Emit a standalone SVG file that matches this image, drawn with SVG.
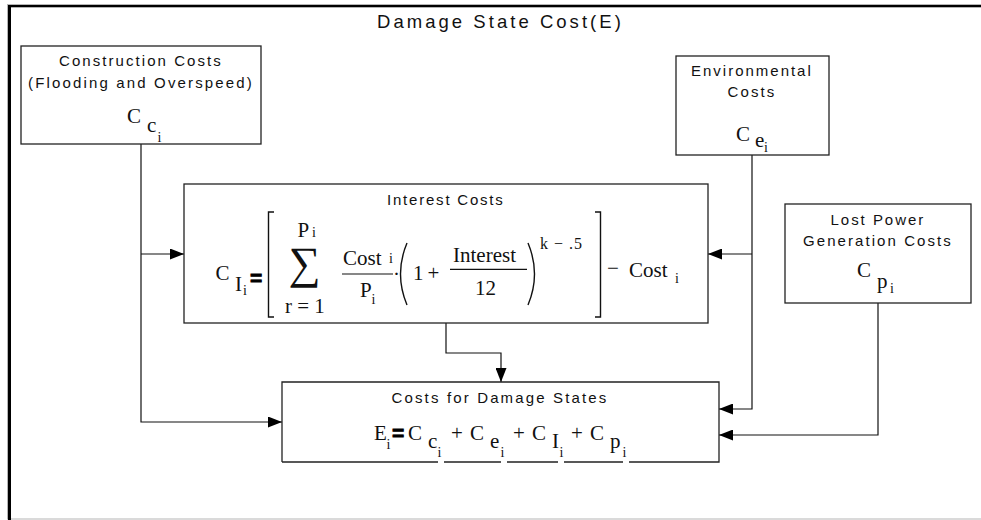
<svg xmlns="http://www.w3.org/2000/svg" width="981" height="520" viewBox="0 0 981 520">
  <style>
    .box { fill: #fff; stroke: #222; stroke-width: 1.3; }
    .lbl { font-family: "Liberation Sans", Arial, sans-serif; font-size: 15px; fill: #111; text-anchor: middle; letter-spacing: 2.2px; }
    .m { font-family: "Liberation Serif", "Times New Roman", serif; font-size: 21px; fill: #111; }
    .s { font-family: "Liberation Serif", "Times New Roman", serif; font-size: 14px; fill: #111; }
    .eq { font-family: "Liberation Sans", Arial, sans-serif; font-size: 21px; font-weight: bold; fill: #000; stroke: #000; stroke-width: 0.8; }
    .conn { fill: none; stroke: #111; stroke-width: 1.2; }
    .delim { fill: none; stroke: #111; stroke-width: 1.4; }
  </style>
  <defs>
    <marker id="arrow" markerUnits="userSpaceOnUse" markerWidth="14" markerHeight="11" refX="14" refY="5.5" orient="auto">
      <path d="M0,0 L14,5.5 L0,11 Z" fill="#000"/>
    </marker>
  </defs>

  <!-- outer frame with heavy top/left edge -->
  <g id="frame">
    <rect x="7.5" y="4.5" width="980" height="514.5" fill="#fff" stroke="#b5b5b5" stroke-width="1"/>
    <rect x="8" y="5" width="3" height="515" fill="#000"/>
    <rect x="8" y="5" width="973" height="2.3" fill="#000"/>
    <text class="lbl" x="500" y="28" textLength="246" lengthAdjust="spacing" style="font-size:18.5px">Damage State Cost(E)</text>
  </g>

  <!-- connectors -->
  <g id="connectors">
    <path class="conn" d="M141,144 V422 H282" marker-end="url(#arrow)"/>
    <path class="conn" d="M141,254 H184" marker-end="url(#arrow)"/>
    <path class="conn" d="M752,155 V409 H719" marker-end="url(#arrow)"/>
    <path class="conn" d="M752,254 H708" marker-end="url(#arrow)"/>
    <path class="conn" d="M446,323 V353 H501 V382" marker-end="url(#arrow)"/>
    <path class="conn" d="M878,303 V435 H719" marker-end="url(#arrow)"/>
  </g>

  <!-- construction costs -->
  <g id="construction">
    <rect class="box" x="21" y="46" width="240" height="98"/>
    <text class="lbl" x="141" y="66" textLength="164" lengthAdjust="spacing">Construction Costs</text>
    <text class="lbl" x="141" y="88" textLength="226" lengthAdjust="spacing">(Flooding and Overspeed)</text>
    <text class="m" x="127" y="123">C</text>
    <text class="m" x="147" y="132">c</text>
    <text class="s" x="157.5" y="142">i</text>
  </g>

  <!-- environmental costs -->
  <g id="environmental">
    <rect class="box" x="676" y="56" width="153" height="99"/>
    <text class="lbl" x="752" y="76" textLength="122" lengthAdjust="spacing">Environmental</text>
    <text class="lbl" x="752" y="97" textLength="49" lengthAdjust="spacing">Costs</text>
    <text class="m" x="736" y="141">C</text>
    <text class="m" x="755" y="147">e</text>
    <text class="s" x="764" y="151.5">i</text>
  </g>

  <!-- lost power generation costs -->
  <g id="lost-power">
    <rect class="box" x="785" y="204" width="186" height="99"/>
    <text class="lbl" x="878" y="225" textLength="95" lengthAdjust="spacing">Lost Power</text>
    <text class="lbl" x="878" y="246" textLength="150" lengthAdjust="spacing">Generation Costs</text>
    <text class="m" x="857" y="277">C</text>
    <text class="m" x="877" y="288">p</text>
    <text class="s" x="890" y="293">i</text>
  </g>

  <!-- interest costs -->
  <g id="interest">
    <rect class="box" x="184" y="184" width="524" height="139"/>
    <text class="lbl" x="446" y="205" textLength="118" lengthAdjust="spacing">Interest Costs</text>
    <text class="m" x="215.5" y="280">C</text>
    <text class="m" x="235" y="291">I</text>
    <text class="s" x="243" y="295">i</text>
    <text class="eq" x="250" y="285">=</text>
    <path class="delim" d="M274,212 H268.5 V317 H274"/>
    <text class="m" x="297.5" y="237">P</text>
    <text class="s" x="312" y="237">i</text>
    <text x="288.5" y="277.5" style="font-family:'Liberation Serif','DejaVu Serif',serif;font-size:45px;fill:#111">∑</text>
    <text class="m" x="285" y="313">r = 1</text>
    <text class="m" x="343" y="265">Cost</text>
    <text class="s" x="389" y="263">i</text>
    <line class="conn" x1="342" y1="274" x2="393" y2="274"/>
    <text class="m" x="360" y="296.7">P</text>
    <text class="s" x="371.5" y="304">i</text>
    <text class="m" x="393" y="280.5">·</text>
    <path class="delim" d="M407,243 Q394,274 407,305"/>
    <text class="m" x="413" y="280">1</text>
    <text class="m" x="427.5" y="280">+</text>
    <text class="m" x="453" y="262">Interest</text>
    <line class="conn" x1="450" y1="269.3" x2="527" y2="269.3"/>
    <text class="m" x="475" y="295">12</text>
    <path class="delim" d="M528,243 Q541,274 528,305"/>
    <text class="s" x="540" y="249" textLength="42" lengthAdjust="spacing" style="font-size:16px">k − .5</text>
    <path class="delim" d="M595,212 H600.5 V317 H595"/>
    <text class="m" x="607" y="274.5">−</text>
    <text class="m" x="629" y="277">Cost</text>
    <text class="s" x="675" y="283">i</text>
  </g>

  <!-- costs for damage states -->
  <g id="damage-states">
    <rect x="282" y="382" width="437" height="80" fill="#fff" stroke="none"/>
    <path class="box" d="M282,462 V382 H719 V462 H629 M623,462 H564 M558,462 H507 M501,462 H444 M438,462 H282" style="fill:none"/>
    <text class="lbl" x="500" y="403" textLength="217" lengthAdjust="spacing">Costs for Damage States</text>
    <text class="m" x="374" y="440">E</text>
    <text class="s" x="386.5" y="449">i</text>
    <text class="eq" x="392" y="440">=</text>
    <text class="m" x="408" y="440">C</text>
    <text class="m" x="428" y="448">c</text>
    <text class="s" x="437.5" y="457">i</text>
    <text class="m" x="451" y="440">+</text>
    <text class="m" x="470" y="440">C</text>
    <text class="m" x="490" y="448">e</text>
    <text class="s" x="500.5" y="457">i</text>
    <text class="m" x="513" y="440">+</text>
    <text class="m" x="532" y="440">C</text>
    <text class="m" x="552" y="448">I</text>
    <text class="s" x="559.5" y="457">i</text>
    <text class="m" x="571" y="440">+</text>
    <text class="m" x="590" y="440">C</text>
    <text class="m" x="610" y="448">p</text>
    <text class="s" x="622.5" y="457">i</text>
  </g>
</svg>
